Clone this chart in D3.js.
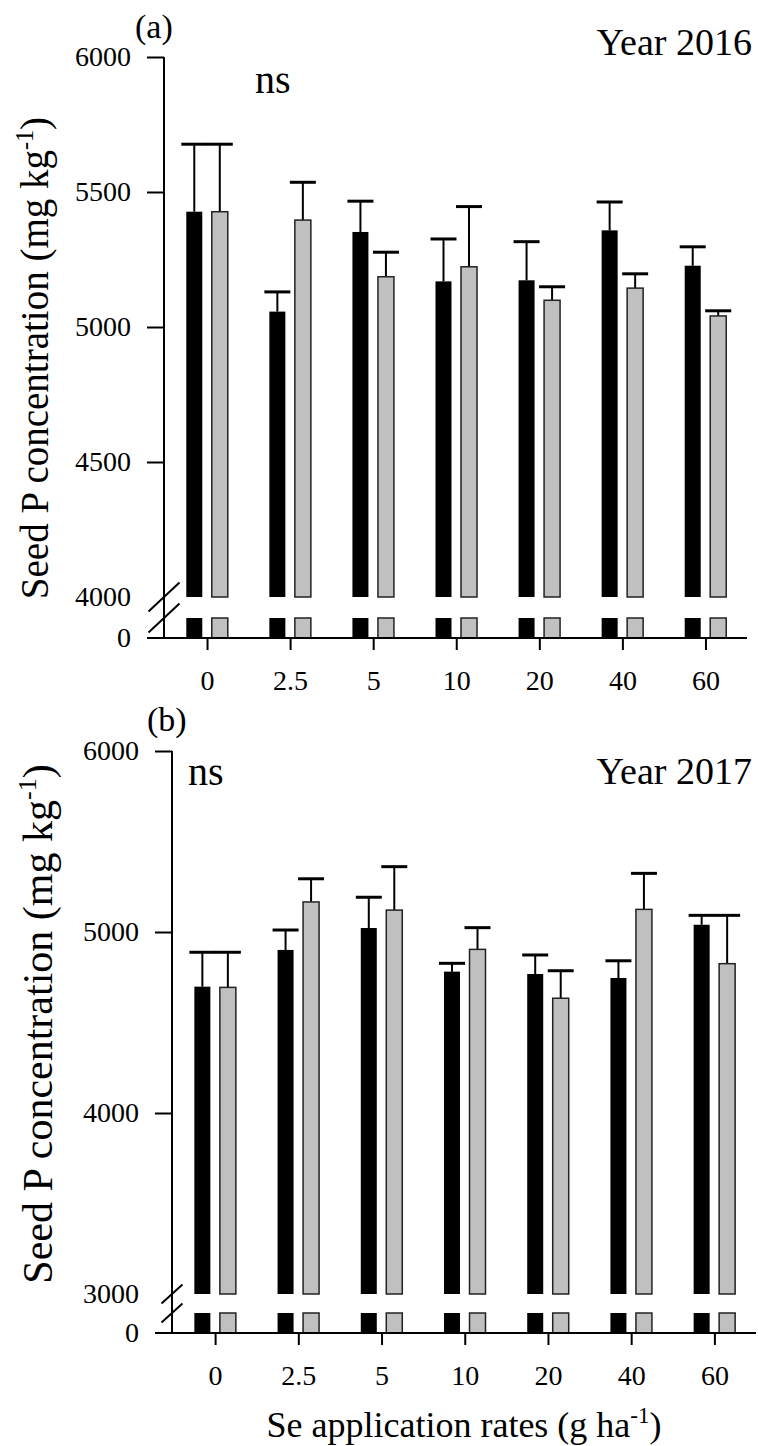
<!DOCTYPE html>
<html>
<head>
<meta charset="utf-8">
<script src="https://cdnjs.cloudflare.com/ajax/libs/d3/7.8.5/d3.min.js"></script>
<style>
  body { margin: 0; background: #fff; }
  svg text { font-family: "Liberation Serif", "Times New Roman", serif; fill: #000; }
</style>
</head>
<body>
<svg id="chart" width="758" height="1446"></svg>
<script>
// Se application rates (g ha-1), one group per rate
var rates = ["0", "2.5", "5", "10", "20", "40", "60"];

// 2016 seed P (mg kg-1): black and grey series, with error (upper bar)
var black2016 = [5427, 5057, 5352, 5169, 5173, 5358, 5227];
var blackErr2016 = [250, 73, 114, 157, 143, 105, 70];
var grey2016 = [5427, 5396, 5186, 5223, 5099, 5144, 5041];
var greyErr2016 = [250, 140, 91, 223, 50, 53, 19];

// 2017 seed P (mg kg-1)
var black2017 = [4698, 4901, 5022, 4781, 4768, 4746, 5040];
var blackErr2017 = [190, 110, 170, 46, 105, 95, 52];
var grey2017 = [4694, 5166, 5121, 4904, 4634, 5125, 4825];
var greyErr2017 = [194, 128, 240, 120, 152, 199, 267];

// y tick labels above the axis break
var ticks2016 = [4000, 4500, 5000, 5500, 6000];
var ticks2017 = [3000, 4000, 5000, 6000];

var svg = d3.select("#chart");

// panel layout (pixels)
var panelA = {
  tag: "(a)", year: "Year 2016", black: black2016, blackErr: blackErr2016,
  grey: grey2016, greyErr: greyErr2016, ticks: ticks2016, breakVal: 4000,
  axisX: 164, right: 747, top: 57, breakY: 597, stubTop: 618, baseY: 638,
  slash: [31, 29], tagPos: [135, 38], nsPos: [255, 93], yearY: 55,
  labelX: 48, labelY: 358, labelSize: 39
};
var panelB = {
  tag: "(b)", year: "Year 2017", black: black2017, blackErr: blackErr2017,
  grey: grey2017, greyErr: greyErr2017, ticks: ticks2017, breakVal: 3000,
  axisX: 172, right: 756, top: 751, breakY: 1294, stubTop: 1313, baseY: 1333,
  slash: [21, 19], tagPos: [147, 731], nsPos: [188, 785], yearY: 784,
  labelX: 52, labelY: 1024, labelSize: 42
};

drawPanel(panelA);
drawPanel(panelB);

// shared x title under panel b
var xt = svg.append("text")
  .attr("x", (panelB.axisX + panelB.right) / 2)
  .attr("y", 1437)
  .attr("text-anchor", "middle")
  .style("font-size", "36px");
xt.append("tspan").text("Se application rates (g ha");
xt.append("tspan").attr("dy", -14).style("font-size", "23px").text("-1");
xt.append("tspan").attr("dy", 14).text(")");

function drawPanel(p) {
  var g = svg.append("g");

  var x = d3.scalePoint()
    .domain(rates)
    .range([p.axisX + 1.5, p.right])
    .padding(0.5);
  var y = d3.scaleLinear().domain([p.breakVal, 6000]).range([p.breakY, p.top]);
  // short stub below the break, 0 .. breakVal
  var yLow = d3.scaleLinear().domain([0, p.breakVal]).range([p.baseY, p.stubTop]);

  var series = [
    { vals: p.black, errs: p.blackErr, fill: "#000", stroke: "none", off: -12.75 },
    { vals: p.grey, errs: p.greyErr, fill: "#c0c0c0", stroke: "#222", off: 12.75 }
  ];
  var barW = 16;

  series.forEach(function (s) {
    var rows = rates.map(function (r, i) { return { rate: r, v: s.vals[i], e: s.errs[i] }; });
    var cx = function (d) { return x(d.rate) + s.off; };

    // error bars first so the bar covers the stem start
    g.selectAll(null).data(rows).enter().append("line")
      .attr("x1", cx).attr("x2", cx)
      .attr("y1", function (d) { return y(d.v); })
      .attr("y2", function (d) { return y(d.v + d.e); })
      .attr("stroke", "#000").attr("stroke-width", 2);
    g.selectAll(null).data(rows).enter().append("line")
      .attr("x1", function (d) { return cx(d) - 13; })
      .attr("x2", function (d) { return cx(d) + 13; })
      .attr("y1", function (d) { return y(d.v + d.e); })
      .attr("y2", function (d) { return y(d.v + d.e); })
      .attr("stroke", "#000").attr("stroke-width", 3);

    // upper bar part
    g.selectAll(null).data(rows).enter().append("rect")
      .attr("x", function (d) { return cx(d) - barW / 2; })
      .attr("width", barW)
      .attr("y", function (d) { return y(d.v); })
      .attr("height", function (d) { return y(p.breakVal) - y(d.v); })
      .attr("fill", s.fill)
      .attr("stroke", s.stroke).attr("stroke-width", 1.5);

    // lower stub
    g.selectAll(null).data(rows).enter().append("rect")
      .attr("x", function (d) { return cx(d) - barW / 2; })
      .attr("width", barW)
      .attr("y", function (d) { return yLow(Math.min(d.v, p.breakVal)); })
      .attr("height", function (d) { return yLow(0) - yLow(Math.min(d.v, p.breakVal)); })
      .attr("fill", s.fill)
      .attr("stroke", s.stroke).attr("stroke-width", 1.5);
  });

  // y axis above the break
  var ya = g.append("g")
    .attr("transform", "translate(" + p.axisX + ",0)")
    .call(d3.axisLeft(y).tickValues(p.ticks).tickSize(17).tickPadding(16).tickFormat(d3.format("d")));
  ya.select(".domain").remove();
  ya.selectAll(".tick line").attr("stroke-width", 2)
    .filter(function (d) { return d === p.breakVal; }).remove();
  ya.selectAll("text").attr("font-family", null).style("font-size", "28px");

  // "0" label at the baseline
  var yb = g.append("g")
    .attr("transform", "translate(" + p.axisX + ",0)")
    .call(d3.axisLeft(yLow).tickValues([0]).tickSize(0).tickPadding(33));
  yb.select(".domain").remove();
  yb.selectAll("text").attr("font-family", null).style("font-size", "28px");

  // x axis ticks
  var xa = g.append("g")
    .attr("transform", "translate(0," + p.baseY + ")")
    .call(d3.axisBottom(x).tickSize(12).tickPadding(20));
  xa.select(".domain").remove();
  xa.selectAll(".tick line").attr("stroke-width", 2);
  xa.selectAll("text").attr("font-family", null).style("font-size", "28px");

  // axis lines
  g.append("line")
    .attr("x1", p.axisX).attr("x2", p.axisX)
    .attr("y1", y(6000)).attr("y2", p.baseY)
    .attr("stroke", "#000").attr("stroke-width", 2);
  g.append("line")
    .attr("x1", p.axisX - 17).attr("x2", p.right)
    .attr("y1", p.baseY).attr("y2", p.baseY)
    .attr("stroke", "#000").attr("stroke-width", 2);

  // break marks
  [p.breakY, p.stubTop].forEach(function (by) {
    g.append("line")
      .attr("x1", p.axisX - p.slash[0] / 2).attr("x2", p.axisX + p.slash[0] / 2)
      .attr("y1", by + p.slash[1] / 2).attr("y2", by - p.slash[1] / 2)
      .attr("stroke", "#000").attr("stroke-width", 2);
  });

  // texts
  g.append("text").attr("x", p.tagPos[0]).attr("y", p.tagPos[1])
    .style("font-size", "34px").text(p.tag);
  g.append("text").attr("x", p.nsPos[0]).attr("y", p.nsPos[1])
    .style("font-size", "40px").text("ns");
  g.append("text").attr("x", 752).attr("y", p.yearY)
    .attr("text-anchor", "end").style("font-size", "38px").text(p.year);

  var yl = g.append("text")
    .attr("transform", "translate(" + p.labelX + "," + p.labelY + ") rotate(-90)")
    .attr("text-anchor", "middle")
    .style("font-size", p.labelSize + "px");
  yl.append("tspan").text("Seed P concentration (mg kg");
  yl.append("tspan").attr("dy", -p.labelSize * 0.38).style("font-size", (p.labelSize * 0.62) + "px").text("-1");
  yl.append("tspan").attr("dy", p.labelSize * 0.38).text(")");
}
</script>
</body>
</html>
